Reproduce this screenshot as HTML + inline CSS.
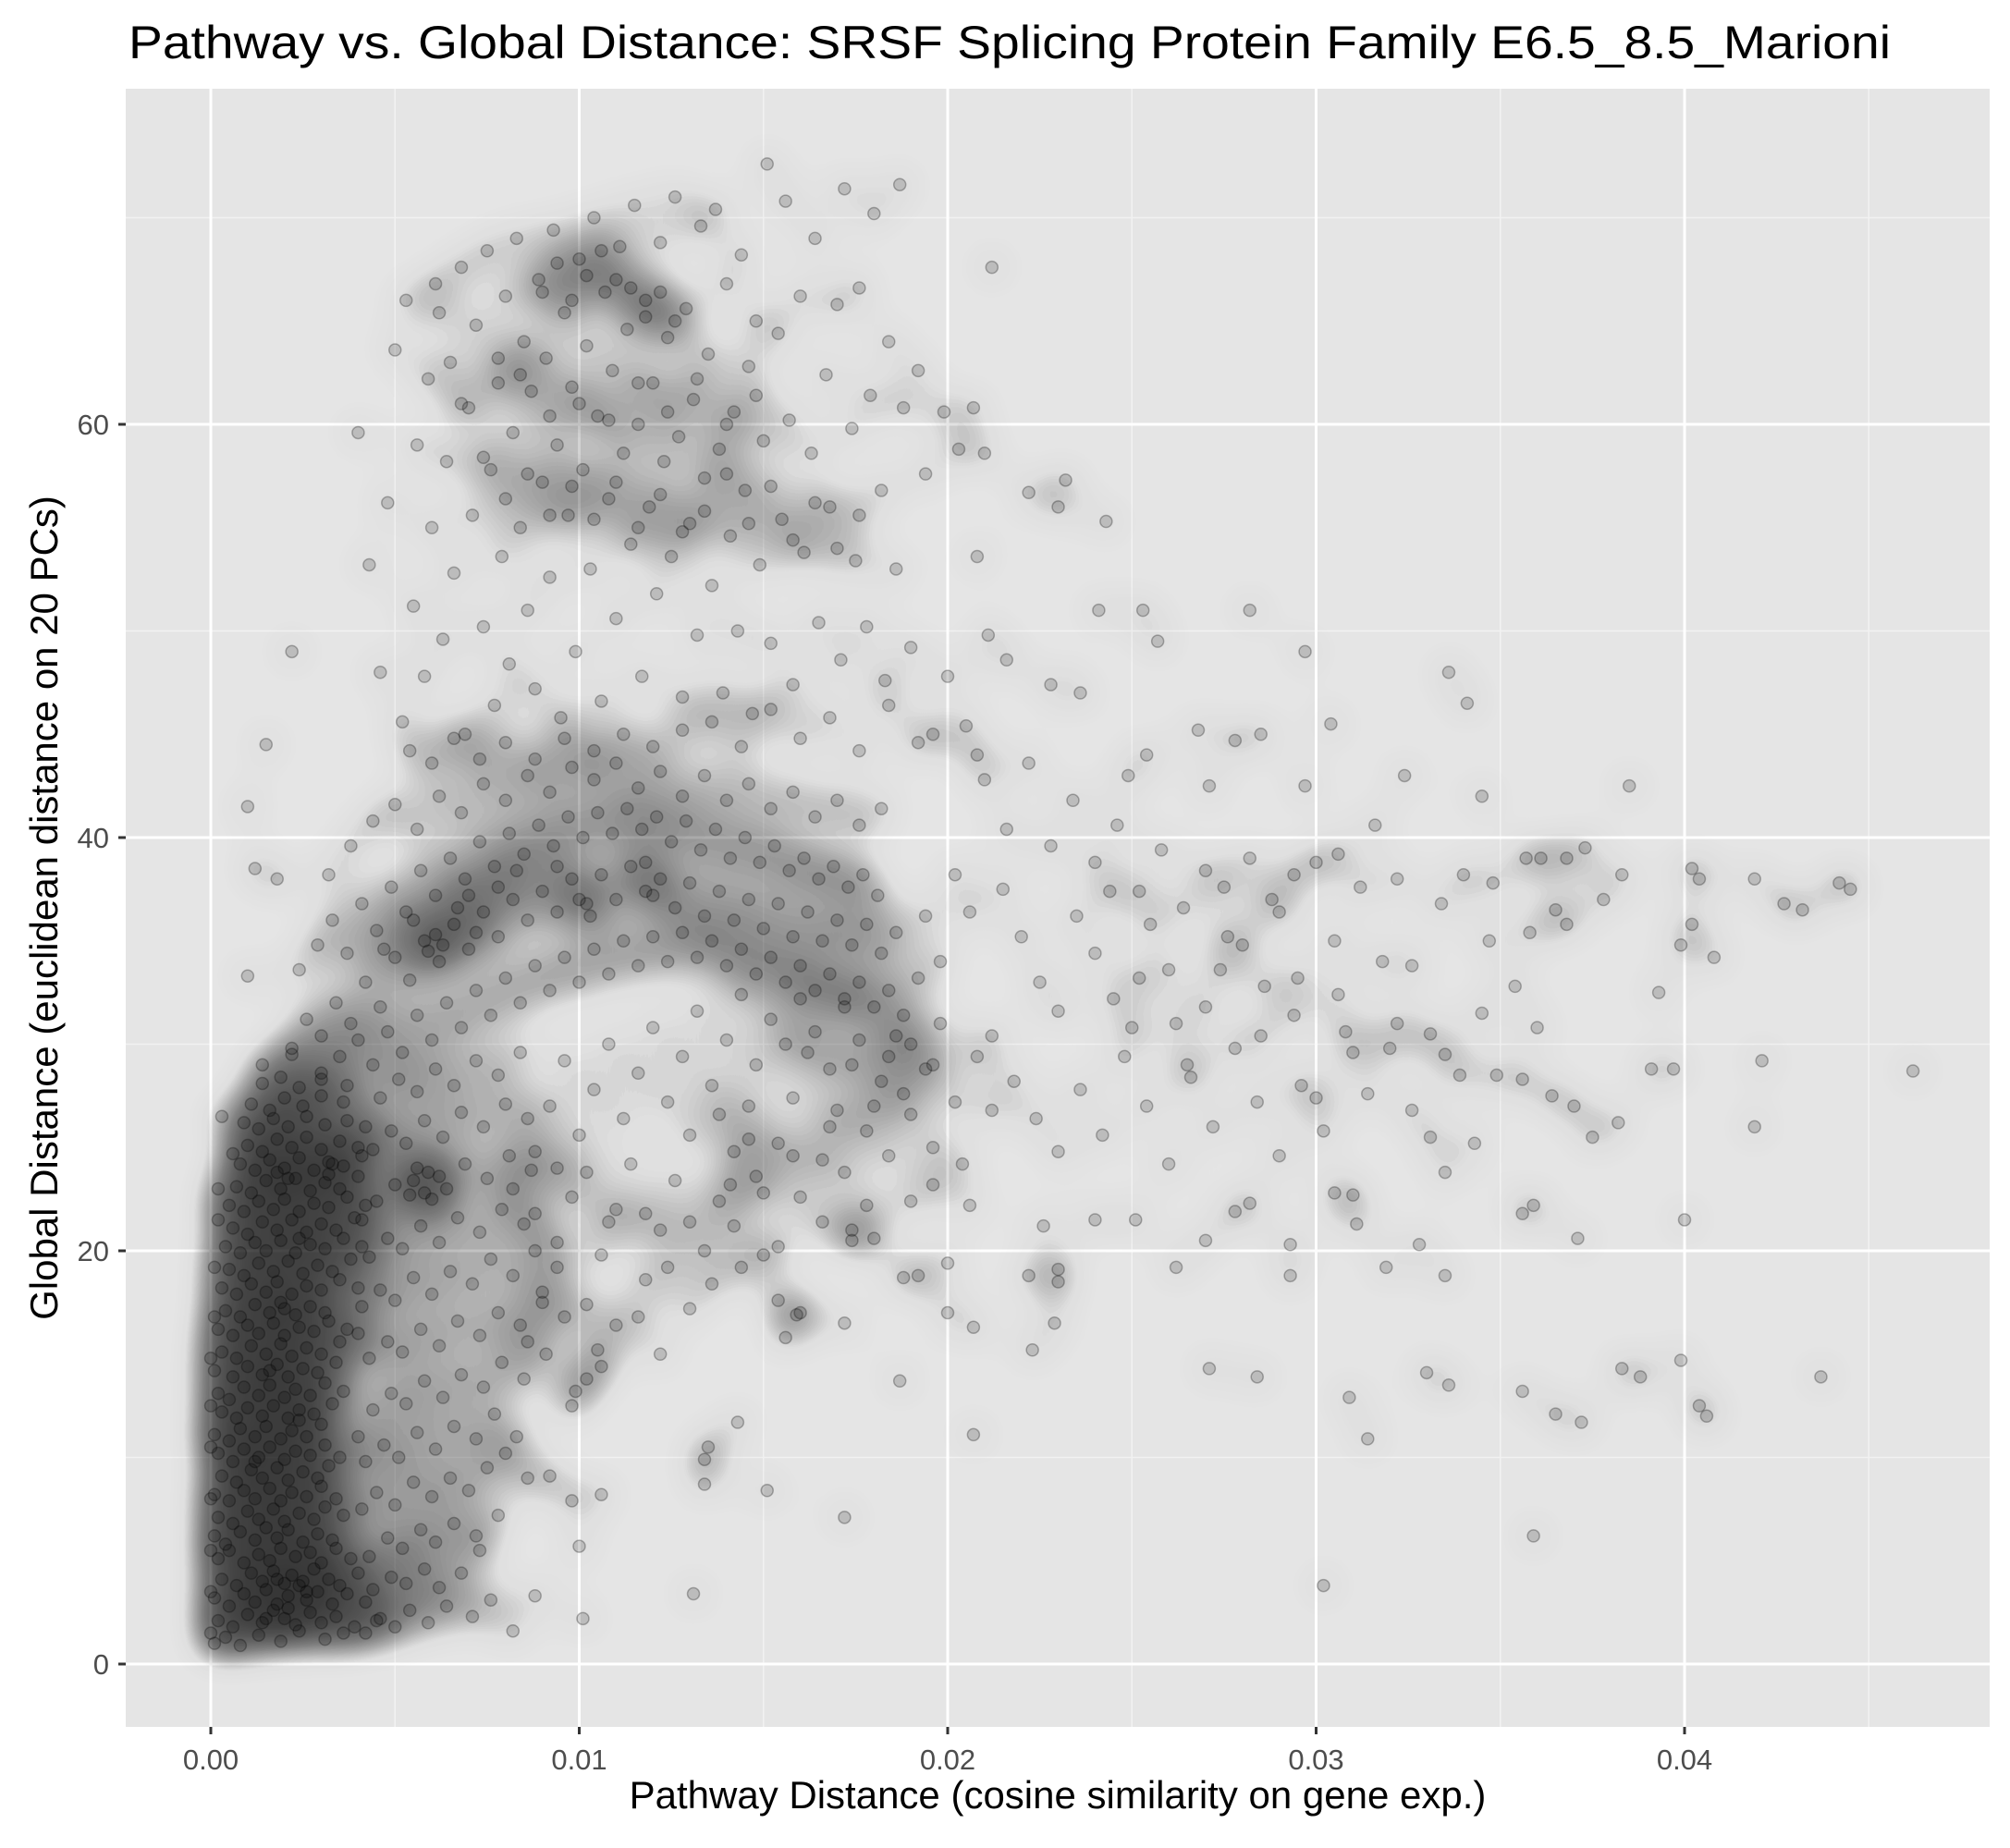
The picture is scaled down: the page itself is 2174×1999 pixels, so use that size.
<!DOCTYPE html>
<html>
<head>
<meta charset="utf-8">
<style>
html,body{margin:0;padding:0;background:#fff;}
svg{display:block;font-family:"Liberation Sans",Arial,sans-serif;}
</style>
</head>
<body>
<svg id="chart" width="2174" height="1999" viewBox="0 0 2174 1999" xmlns="http://www.w3.org/2000/svg">
  <defs>
    <filter id="dens" filterUnits="userSpaceOnUse" x="136" y="96" width="2016" height="1772">
      <feGaussianBlur in="SourceGraphic" stdDeviation="22"/>
      <feComponentTransfer>
        <feFuncA type="table" tableValues="0 0.03 0.3 0.52 0.66 0.76 0.83 0.87 0.89 0.9 0.9 0.9 0.9 0.9 0.9 0.9 0.9 0.9 0.9 0.9 0.9"/>
      </feComponentTransfer>
    </filter>
    <clipPath id="panelClip"><rect x="136" y="96" width="2016" height="1772"/></clipPath>
  </defs>
  <rect x="0" y="0" width="2174" height="1999" fill="#ffffff"/>
  <text x="139" y="63" font-size="50" fill="#000" textLength="1906" lengthAdjust="spacingAndGlyphs">Pathway vs. Global Distance: SRSF Splicing Protein Family E6.5_8.5_Marioni</text>
  <rect x="136" y="96" width="2016" height="1772" fill="#e5e5e5"/>
  <g id="grid"></g>
  <g clip-path="url(#panelClip)">
    <g id="density" filter="url(#dens)" opacity="0.85"></g>
    <g id="points"></g>
  </g>
  <g id="axes"></g>
  <text x="1144" y="1956" font-size="42" text-anchor="middle" fill="#000">Pathway Distance (cosine similarity on gene exp.)</text>
  <text transform="translate(62,982) rotate(-90)" font-size="42" text-anchor="middle" fill="#000">Global Distance (euclidean distance on 20 PCs)</text>
</svg>
<script>
// pathway distance in units of 0.001, global distance
const coreCluster = [
[0.1,1.0],[0.4,1.3],[0.8,0.9],[1.3,1.4],[1.9,1.1],[2.4,1.6],[3.1,1.2],[3.6,1.5],[0.2,2.1],[0.6,1.8],[1.0,2.4],[1.4,2.0],[1.7,2.6],[2.0,2.2],[2.3,1.9],[2.7,2.5],[3.0,2.0],[3.4,2.3],[3.9,1.8],[4.5,2.1],
[0.1,3.2],[0.5,2.8],[0.9,3.4],[1.2,3.0],[1.5,3.6],[1.8,2.9],[2.1,3.3],[2.4,3.8],[2.6,3.1],[2.9,3.5],[3.3,2.9],[3.7,3.4],[4.2,3.0],[0.3,4.1],[0.7,3.8],[1.1,4.4],[1.4,4.0],[1.7,4.5],[2.0,3.9],[2.2,4.3],[2.5,4.0],[2.8,4.6],[3.2,4.1],[3.5,3.8],[4.0,4.4],
[0.2,5.1],[0.5,5.5],[0.9,4.9],[1.3,5.3],[1.6,5.0],[1.9,5.6],[2.3,5.2],[2.7,5.4],[3.0,4.9],[3.4,5.6],[3.8,5.1],[0.1,6.2],[0.4,5.8],[0.8,6.4],[1.2,6.0],[1.5,6.6],[1.8,6.1],[2.1,6.5],[2.5,5.9],[2.9,6.3],[3.3,6.0],
[0.2,7.1],[0.6,6.8],[1.0,7.4],[1.3,7.0],[1.7,7.5],[2.0,6.9],[2.4,7.3],[2.8,7.0],[3.1,7.6],[3.6,7.2],[0.1,8.2],[0.5,7.9],[0.9,8.4],[1.2,8.0],[1.6,8.5],[1.9,7.9],[2.2,8.3],[2.6,8.1],[3.0,8.6],[3.4,8.0],
[0.3,9.1],[0.7,8.8],[1.1,9.4],[1.4,9.0],[1.8,9.5],[2.1,8.9],[2.5,9.3],[2.9,9.0],[3.2,9.6],[0.2,10.2],[0.6,9.8],[0.9,10.4],[1.3,10.0],[1.6,10.5],[2.0,9.9],[2.3,10.3],[2.7,10.1],[3.1,10.6],[3.5,10.0],
[0.1,11.1],[0.5,10.8],[0.8,11.4],[1.2,11.0],[1.5,11.5],[1.9,10.9],[2.2,11.3],[2.6,11.0],[3.0,11.6],[0.3,12.2],[0.7,11.9],[1.0,12.4],[1.4,12.0],[1.7,12.5],[2.1,11.9],[2.4,12.3],[2.8,12.1],[3.3,12.6],
[0.2,13.1],[0.5,12.8],[0.9,13.4],[1.3,13.0],[1.6,13.5],[2.0,12.9],[2.3,13.3],[2.7,13.0],[3.1,13.6],[3.6,13.2],[0.1,14.2],[0.6,13.9],[1.0,14.4],[1.4,14.0],[1.8,14.5],[2.1,13.9],[2.5,14.3],[2.9,14.1],[3.4,14.6],
[0.3,15.1],[0.7,14.8],[1.1,15.4],[1.5,15.0],[1.9,15.5],[2.2,14.9],[2.6,15.3],[3.0,15.0],[3.5,15.6],[0.2,16.2],[0.6,15.9],[1.0,16.4],[1.3,16.0],[1.7,16.5],[2.0,15.9],[2.4,16.3],[2.8,16.1],[3.2,16.6],[3.7,16.2],
[0.4,17.1],[0.8,16.8],[1.2,17.4],[1.6,17.0],[1.9,17.5],[2.3,16.9],[2.7,17.3],[3.1,17.0],[0.3,18.2],[0.7,17.9],[1.1,18.4],[1.5,18.0],[1.8,18.5],[2.2,17.9],[2.6,18.3],[3.0,18.1],[3.5,18.6],[4.0,18.2],
[0.5,19.1],[0.9,18.8],[1.3,19.4],[1.7,19.0],[2.1,19.5],[2.5,18.9],[2.9,19.3],[3.3,19.0],[3.8,19.6],[0.4,20.2],[0.8,19.9],[1.2,20.4],[1.5,20.0],[1.9,20.5],[2.3,19.9],[2.7,20.3],[3.1,20.1],[3.6,20.6],[4.1,20.2],
[0.6,21.1],[1.0,20.8],[1.4,21.4],[1.8,21.0],[2.2,21.5],[2.6,20.9],[3.0,21.3],[3.4,21.0],[3.9,21.6],[0.5,22.2],[0.9,21.9],[1.3,22.4],[1.7,22.0],[2.0,22.5],[2.4,21.9],[2.8,22.3],[3.2,22.1],[3.7,22.6],[4.2,22.2],
[0.7,23.1],[1.1,22.8],[1.5,23.4],[1.9,23.0],[2.3,23.5],[2.7,22.9],[3.1,23.3],[3.5,23.0],[4.0,23.6],[0.8,24.2],[1.2,23.9],[1.6,24.4],[2.0,24.0],[2.4,24.5],[2.8,23.9],[3.2,24.3],[3.6,24.1],[4.1,24.6],
[1.0,25.1],[1.4,24.8],[1.8,25.4],[2.2,25.0],[2.6,25.5],[3.0,24.9],[3.5,25.3],[4.0,25.0],[0.9,26.2],[1.3,25.9],[1.7,26.4],[2.1,26.0],[2.6,26.5],[3.1,26.1],[3.7,26.3],[1.1,27.1],[1.6,26.8],[2.0,27.4],[2.5,27.0],[3.0,27.5],[3.6,27.2],
[1.4,28.1],[1.9,28.4],[2.4,27.9],[3.0,28.3],[3.7,28.0],[0.3,26.5],[0.6,24.7],[0.2,23.0],[1.4,29.0],[2.2,29.5],[1.0,33.3],[1.2,38.5],[1.5,44.5],[2.2,49.0],[1.0,41.5],[1.8,38.0],
[0.0,1.5],[0.0,3.5],[0.0,5.5],[0.0,8.0],[0.0,10.5],[0.0,12.5],[0.0,14.8],[0.1,16.8],[0.1,19.2],[0.2,21.5],[1.5,2.2],[2.1,2.7],[1.8,4.1],[2.6,3.5],[1.2,9.8],[2.4,11.8],[1.6,14.2],[2.0,17.2],[2.4,20.6],[1.8,23.8],[3.2,23.7],[3.3,24.2],[2.1,23.5]
];
const lowMidCluster = [
[4.2,1.5],[4.6,2.2],[5.0,1.8],[5.4,2.6],[5.9,2.0],[6.4,2.8],[7.1,2.3],[7.6,3.1],[8.2,1.6],[8.8,3.3],[4.4,3.6],[4.9,4.2],[5.3,3.9],[5.8,4.6],[6.2,3.7],[6.8,4.4],[7.3,5.5],[4.3,5.2],[4.8,6.1],[5.2,5.6],[5.7,6.5],[6.1,5.9],[6.6,6.8],[7.2,6.2],[7.8,7.2],
[4.1,7.5],[4.5,8.3],[5.0,7.7],[5.5,8.8],[6.0,8.1],[6.5,9.0],[7.0,8.4],[7.5,9.5],[8.0,10.2],[8.6,9.0],[9.2,9.1],[4.2,9.8],[4.7,10.6],[5.1,10.0],[5.6,11.2],[6.1,10.4],[6.6,11.5],[7.2,10.9],[7.7,12.1],[8.3,11.0],
[4.4,12.3],[4.9,13.1],[5.3,12.6],[5.8,13.7],[6.3,12.9],[6.8,14.0],[7.4,13.4],[7.9,14.6],[8.5,13.8],[9.1,15.0],[4.3,14.8],[4.8,15.6],[5.2,15.1],[5.7,16.2],[6.2,15.4],[6.7,16.6],[7.3,15.9],[7.8,17.0],[8.4,16.4],[9.0,17.5],[9.6,16.8],
[4.1,17.3],[4.6,18.1],[5.0,17.6],[5.5,18.7],[6.0,17.9],[6.5,19.0],[7.1,18.4],[7.6,19.6],[8.2,18.8],[8.8,20.0],[9.4,19.2],[4.3,19.7],[4.8,20.6],[5.2,20.1],[5.7,21.2],[6.2,20.4],[6.7,21.6],[7.3,20.9],[7.9,22.0],[8.5,21.3],
[4.5,22.4],[5.0,23.2],[5.4,22.7],[5.9,23.8],[6.4,23.0],[6.9,24.2],[7.5,23.5],[8.1,24.6],[8.7,23.9],[4.4,24.9],[4.9,25.8],[5.3,25.2],[5.8,26.3],[6.3,25.5],[6.8,26.7],[7.4,26.0],[8.0,27.1],[8.6,26.4],
[4.6,27.4],[5.1,28.3],[5.6,27.7],[6.1,28.8],[6.6,28.0],[7.2,29.2],[7.8,28.5],[8.4,29.6],[4.0,11.0],[4.0,16.0],[4.1,21.5],[4.2,26.0],[9.8,12.5],[10.2,13.8],[10.5,15.2],[6.0,22.5],[6.2,23.6],[5.6,24.0],[5.8,22.8],[5.5,23.4]
];
const bandCluster = [
[2.2,29.8],[2.6,31.2],[3.0,30.4],[3.4,32.0],[3.8,31.0],[4.2,33.0],[4.6,31.8],[5.0,34.2],[5.4,33.1],[5.8,35.0],[6.2,34.0],[6.6,35.8],[7.0,34.6],[7.4,36.4],[7.8,35.2],[8.2,37.0],[8.6,36.0],[9.0,37.4],[9.4,36.4],[9.8,38.0],
[10.2,36.8],[10.6,38.2],[11.0,37.0],[11.4,38.6],[11.8,37.4],[12.2,38.0],[12.6,36.6],[13.0,37.8],[13.4,36.2],[13.8,37.4],[14.2,36.0],[14.6,37.0],[15.0,35.6],[15.4,36.8],[15.8,35.2],[16.2,36.4],[16.6,35.0],[17.0,36.0],[17.4,34.8],[17.8,35.8],[18.2,34.4],[18.6,35.4],
[2.4,33.6],[2.9,34.8],[3.3,36.0],[3.7,34.4],[4.1,36.8],[4.5,35.5],[4.9,37.6],[5.3,36.4],[5.7,38.4],[6.1,37.2],[6.5,39.0],[6.9,38.0],[7.3,39.8],[7.7,38.6],[8.1,40.2],[8.5,39.2],[8.9,40.6],[9.3,39.6],[9.7,41.0],[10.1,40.0],
[10.5,41.2],[10.9,40.2],[11.3,41.4],[11.7,40.4],[12.1,41.0],[12.5,39.8],[12.9,40.8],[13.3,39.4],[13.7,40.4],[14.1,39.0],[14.5,40.0],[14.9,38.8],[15.3,39.6],[15.7,38.4],[16.1,39.0],[16.5,38.0],[16.9,38.6],[17.3,37.6],[17.7,38.2],[18.1,37.2],
[3.0,28.6],[3.5,29.4],[4.0,30.2],[4.4,29.0],[4.8,30.6],[5.2,29.6],[5.6,31.4],[6.0,30.2],[6.4,32.0],[6.8,30.8],[7.2,32.6],[7.6,31.4],[8.0,33.2],[8.4,32.0],[8.8,33.8],[9.2,32.6],[9.6,34.2],[10.0,33.0],[10.4,34.6],[10.8,33.4],
[11.2,35.0],[11.6,33.8],[12.0,35.2],[12.4,34.0],[12.8,35.4],[13.2,34.2],[13.6,35.0],[14.0,33.8],[14.4,34.6],[14.8,33.4],[15.2,34.2],[15.6,33.0],[16.0,33.8],[16.4,32.6],[16.8,33.4],[17.2,32.2],[17.6,33.0],[18.0,31.8],[18.4,32.6],[18.8,31.4],[19.2,33.2],
[3.2,38.2],[3.8,39.6],[4.4,40.8],[5.0,41.6],[5.6,40.4],[6.2,42.0],[6.8,41.2],[7.4,42.6],[8.0,41.8],[8.6,43.0],[9.2,42.2],[9.8,43.4],[10.4,42.8],[11.0,43.6],[11.6,42.4],[12.2,43.2],[12.8,42.0],[13.4,43.0],[14.0,41.8],[14.6,42.6],[15.2,41.4],[15.8,42.2],[16.4,41.0],[17.0,41.8],[17.6,40.6],[18.2,41.4],
[5.9,34.5],[6.3,34.8],[6.1,35.3],[7.0,37.2],[7.2,35.4],[10.0,37.0],[10.3,36.2],[11.8,38.8],[12.0,37.2],[9.4,38.6],[8.3,38.4],[7.8,37.6],[6.7,36.6],[5.5,36.0],[4.7,34.6],[19.0,30.0],[19.6,29.0],[19.4,36.2],[19.8,34.0],[20.2,38.2],[20.6,36.4]
];
const midCluster = [
[8.6,15.6],[9.0,18.0],[9.4,20.4],[9.8,22.6],[10.2,17.4],[10.6,19.8],[11.0,22.0],[11.4,24.2],[11.8,18.6],[12.2,21.0],[12.6,23.4],[13.0,25.6],[13.4,20.0],[13.8,22.4],[14.2,24.8],[14.6,27.0],[15.0,22.8],[15.4,25.2],[15.8,27.4],[16.2,29.6],
[16.6,24.4],[17.0,26.8],[17.4,29.0],[17.8,25.8],[18.2,28.2],[18.6,30.4],[19.0,26.6],[19.4,28.8],[19.8,31.0],[20.2,27.2],[8.8,24.8],[9.2,27.0],[9.6,29.2],[10.0,25.6],[10.4,27.8],[10.8,30.0],[11.2,26.4],[11.6,28.6],[12.0,30.8],[12.4,27.2],
[12.8,29.4],[13.2,31.6],[13.6,28.0],[14.0,30.2],[14.4,32.4],[14.8,29.0],[15.2,31.2],[15.6,30.0],[16.0,32.2],[16.4,30.6],[16.8,28.8],[17.2,31.8],[17.6,30.2],[18.0,27.0],[18.4,29.4],[11.0,16.4],[11.6,16.8],[12.2,15.0],[10.6,14.4],[9.9,13.2],
[13.0,17.2],[13.6,18.4],[14.2,21.2],[14.8,23.6],[15.4,20.2],[16.0,22.6],[16.6,21.4],[17.2,23.8],[17.8,22.2],[18.4,24.6],[19.0,22.4],[19.6,25.0],[20.4,24.2],[20.8,29.4],[21.2,26.8],[20.0,19.4],[19.2,18.8],[18.0,20.6],[17.4,21.0],[16.0,17.0],
[15.0,19.8],[14.4,19.2],[13.0,21.4],[12.4,19.2],[11.8,21.8],[10.8,21.4],[10.2,23.8],[9.4,24.0],[8.8,21.8],[8.2,23.0],[14.1,23.2],[14.6,25.4],[13.8,26.6],[15.8,24.6],[16.8,26.0],[18.8,27.6],[19.6,23.2],[20.6,22.2],[20.0,17.0],[15.4,17.6]
];
const upperCluster = [
[4.0,59.6],[4.3,53.2],[4.6,48.0],[4.8,56.2],[5.0,63.6],[5.2,45.6],[5.3,66.0],[5.5,51.2],[5.6,59.0],[5.8,47.8],[5.9,62.2],[6.0,55.0],[6.1,66.8],[6.3,49.6],[6.4,58.2],[6.5,63.0],[6.6,52.8],[6.8,67.6],[6.9,45.0],[7.0,60.8],
[7.1,55.6],[7.2,64.8],[7.4,50.2],[7.5,68.4],[7.6,57.8],[7.7,46.4],[7.8,62.0],[7.9,53.6],[8.0,66.2],[8.1,48.4],[8.2,59.6],[8.3,69.0],[8.4,55.0],[8.5,64.0],[8.6,51.0],[8.7,61.6],[8.8,47.2],[8.9,67.0],[9.0,57.2],[9.1,63.2],
[9.2,52.6],[9.3,69.4],[9.4,59.0],[9.5,45.8],[9.6,65.4],[9.7,55.6],[9.8,61.8],[9.9,49.0],[10.0,68.0],[10.1,57.8],[10.2,63.8],[10.3,53.0],[10.4,70.0],[10.5,60.4],[10.6,46.6],[10.7,66.4],[10.8,56.4],[10.9,62.6],[11.0,50.6],[11.1,68.6],
[11.2,58.6],[11.3,64.6],[11.4,54.2],[11.5,70.6],[11.6,60.0],[11.7,47.8],[11.8,66.0],[11.9,56.0],[12.0,62.0],[12.1,51.8],[12.2,68.8],[12.3,58.2],[12.4,64.2],[12.5,53.6],[12.6,71.0],[12.7,59.4],[12.8,45.2],[12.9,65.6],[13.0,55.2],[13.1,61.2],
[13.2,49.8],[13.3,69.6],[13.4,57.4],[13.5,63.4],[13.6,52.2],[13.7,70.4],[13.8,58.8],[13.9,47.0],[14.0,66.8],[14.1,54.6],[14.2,60.6],[14.3,50.0],[14.4,68.2],[14.5,56.8],[14.6,62.8],[14.7,46.0],[14.8,65.0],[14.9,53.2],[15.0,59.2],[15.1,72.6],
[15.2,49.4],[15.4,64.4],[15.5,55.4],[15.6,70.8],[15.7,60.2],[15.8,47.4],[16.0,66.2],[16.1,53.8],[16.3,58.6],[16.4,69.0],[16.5,50.4],[16.7,62.4],[16.8,56.0],[17.0,65.8],[17.1,48.6],[17.2,71.4],[17.4,59.8],[17.5,53.4],[17.6,66.6],[17.8,50.2],
[17.9,61.4],[18.0,70.2],[18.2,56.8],[18.3,47.6],[18.4,64.0],[18.6,53.0],[18.7,71.6],[18.8,60.8],[19.0,49.2],[19.2,62.6],[19.4,57.6],[19.6,45.0],[19.9,60.6],[20.3,58.8],[20.7,60.8],[21.0,58.6],[20.8,53.6],[21.2,67.6],[21.1,49.8],[20.5,45.4],
[5.4,44.2],[6.0,43.6],[6.6,44.8],[7.3,43.8],[8.0,44.6],[8.8,43.8],[9.6,44.8],[10.4,44.2],[11.2,45.0],[12.0,44.4],[12.8,46.8],[13.6,45.6],[14.4,44.4],[15.2,46.2],[16.0,44.8],[16.8,45.8],[17.6,44.2],[18.4,46.4],[19.2,44.6],[20.0,47.8],
[6.2,65.4],[6.8,61.0],[7.4,58.4],[8.0,56.4],[8.6,57.6],[9.2,55.6],[9.8,57.0],[10.4,55.4],[11.0,57.2],[11.6,55.0],[12.2,56.6],[12.8,54.8],[13.4,55.8],[14.0,57.6],[14.6,55.2],[15.2,57.0],[15.8,54.4],[16.4,56.2],[17.0,54.0],[17.6,55.6],
[9.0,66.4],[9.4,67.8],[9.8,66.0],[10.2,67.2],[10.6,68.4],[11.0,67.0],[11.4,66.6],[11.8,65.2],[12.2,66.4],[12.6,65.0],[7.8,63.2],[8.4,62.4],[9.2,60.4],[10.0,61.0],[10.8,60.2],[11.6,62.0],[12.4,60.6],[13.2,62.2],[14.0,60.0],[14.8,61.4]
];
const sparseTail = [
[22.2,56.7],[23.0,56.0],[23.2,57.3],[24.3,55.3],[24.1,51.0],[25.3,51.0],[28.2,51.0],[29.7,49.0],[25.7,49.5],[24.9,43.0],[25.4,44.0],[26.8,45.2],[27.8,44.7],[28.5,45.0],[30.4,45.5],[32.4,43.0],[29.7,42.5],[27.1,42.5],[33.6,48.0],[34.1,46.5],
[34.5,42.0],[38.5,42.5],[37.3,39.5],[35.7,39.0],[36.1,39.0],[36.8,39.0],[40.2,38.5],[40.4,38.0],[41.9,38.0],[44.5,37.5],[44.2,37.8],[43.2,36.5],[42.7,36.8],[40.8,34.2],[40.2,35.8],[39.9,34.8],[37.8,37.0],[38.3,38.2],[36.5,36.5],[34.7,35.0],
[35.4,32.8],[34.5,31.5],[33.1,30.5],[33.5,29.5],[33.9,28.5],[34.9,28.5],[35.6,28.3],[36.4,27.5],[37.0,27.0],[38.2,26.2],[39.1,28.8],[39.7,28.8],[39.3,32.5],[42.1,29.2],[46.2,28.7],[41.9,26.0],[37.5,25.5],[34.3,25.2],[33.1,25.5],[33.5,23.8],
[35.6,21.8],[35.9,22.2],[37.1,20.6],[40.0,21.5],[33.5,18.8],[32.8,20.3],[31.9,19.2],[30.5,22.8],[31.0,22.7],[31.1,21.3],[29.3,20.3],[29.3,18.8],[28.2,22.3],[27.8,21.9],[27.0,20.5],[26.2,19.2],[25.1,21.5],[24.0,21.5],[22.6,21.2],[23.0,19.1],
[22.2,18.8],[23.0,18.5],[22.9,16.5],[22.3,15.2],[20.7,16.3],[20.7,11.1],[27.1,14.3],[28.4,13.9],[30.9,12.9],[31.4,10.9],[33.0,14.1],[33.6,13.5],[35.6,13.2],[36.5,12.1],[37.2,11.7],[38.3,14.3],[38.8,13.9],[39.9,14.7],[40.4,12.5],[40.6,12.0],
[43.7,13.9],[35.9,6.2],[30.2,3.8],[17.2,7.1],[15.1,8.4],[13.1,3.4],[9.8,7.9],[10.0,5.7],[10.1,2.2],[10.6,8.2],[14.3,11.7],[13.5,10.5],[13.4,9.9],[13.4,8.7],[18.7,13.7],[15.9,16.9],[15.6,15.8],[17.2,16.5],[17.4,20.5],[18.8,18.7],
[21.5,37.5],[22.0,35.2],[22.5,33.0],[23.0,31.6],[23.5,36.2],[24.0,34.4],[24.5,32.2],[25.0,30.8],[25.5,35.8],[26.0,33.6],[26.5,29.0],[27.0,31.8],[27.5,37.6],[28.0,34.8],[28.5,30.4],[29.0,36.4],[29.5,33.2],[30.0,27.4],[30.5,35.0],[31.0,29.6],
[21.2,30.4],[21.8,28.2],[22.4,26.4],[23.0,24.8],[23.6,27.8],[24.2,25.6],[24.8,29.4],[25.4,27.0],[26.0,24.2],[26.6,28.4],[27.2,26.0],[27.8,29.8],[28.4,27.2],[29.0,24.6],[29.6,28.0],[30.2,25.8],[30.8,30.6],[31.4,27.6],[32.0,29.8],[32.6,26.8],
[21.0,42.8],[21.6,40.4],[22.2,43.6],[22.8,39.6],[23.4,41.8],[24.0,38.8],[24.6,40.6],[25.2,37.4],[25.8,39.4],[26.4,36.6],[27.0,38.4],[27.6,35.2],[28.2,39.0],[28.8,37.0],[29.4,38.2],[30.0,38.8],[30.6,39.2],[31.2,37.6],[31.8,34.0],[32.2,38.0],
[22.8,47.4],[23.6,47.0],[21.6,48.6],[20.8,44.0],[31.6,40.6],[32.6,33.8],[33.4,36.8],[34.0,38.2],[34.8,37.8],[35.8,35.4],[36.8,35.8],[36.0,30.8],[32.2,31.0],[30.6,32.4],[29.4,31.4],[28.6,32.8],[27.4,33.6],[26.2,31.0],[25.2,33.2],[24.4,37.4]
];
const xTickValues = [0, 10, 20, 30, 40];
const xTickLabels = ["0.00", "0.01", "0.02", "0.03", "0.04"];
const xMinorValues = [5, 15, 25, 35, 45];
const yTickValues = [0, 20, 40, 60];
const yTickLabels = ["0", "20", "40", "60"];
const yMinorValues = [10, 30, 50, 70];

const NS = "http://www.w3.org/2000/svg";
const panel = {left:136, top:96, right:2152, bottom:1868};
function xScale(v){ return 228 + v * 39.85; }
function yScale(v){ return 1800 - v * 22.35; }

const grid = document.getElementById('grid');
const axes = document.getElementById('axes');
function mk(tag, attrs, parent){
  const e = document.createElementNS(NS, tag);
  for (const k in attrs) e.setAttribute(k, attrs[k]);
  parent.appendChild(e);
  return e;
}
xMinorValues.forEach(v=>{
  const l = mk('line',{x1:xScale(v),x2:xScale(v),y1:panel.top,y2:panel.bottom,stroke:'#f2f2f2','stroke-width':1.5},grid);
  
  
});
yMinorValues.forEach(v=>{
  const l = mk('line',{x1:panel.left,x2:panel.right,y1:yScale(v),y2:yScale(v),stroke:'#f2f2f2','stroke-width':1.5},grid);
  
  
});
xTickValues.forEach((v,i)=>{
  const l = mk('line',{x1:xScale(v),x2:xScale(v),y1:panel.top,y2:panel.bottom,stroke:'#ffffff','stroke-width':3},grid);
  
  
  const t = mk('line',{x1:xScale(v),x2:xScale(v),y1:panel.bottom,y2:panel.bottom+8,stroke:'#333333','stroke-width':3},axes);
  
  
  const tx = mk('text',{x:xScale(v),y:1914,'font-size':31,'text-anchor':'middle',fill:'#4d4d4d'},axes);
  tx.textContent = xTickLabels[i];
  
  
});
yTickValues.forEach((v,i)=>{
  const l = mk('line',{x1:panel.left,x2:panel.right,y1:yScale(v),y2:yScale(v),stroke:'#ffffff','stroke-width':3},grid);
  
  
  const t = mk('line',{x1:panel.left-8,x2:panel.left,y1:yScale(v),y2:yScale(v),stroke:'#333333','stroke-width':3},axes);
  
  
  const tx = mk('text',{x:118,y:yScale(v)+11,'font-size':31,'text-anchor':'end',fill:'#4d4d4d'},axes);
  tx.textContent = yTickLabels[i];
  
  
});

const dens = document.getElementById('density');
const pts = document.getElementById('points');
const groups = [coreCluster, lowMidCluster, bandCluster, midCluster, upperCluster, sparseTail];
groups.forEach(arr=>{
  arr.forEach(p=>{
    const d = mk('circle',{cx:xScale(p[0]),cy:yScale(p[1]),r:16,fill:'rgba(0,0,0,0.15)'},dens);
    
    
    const c = mk('circle',{cx:xScale(p[0]),cy:yScale(p[1]),r:6.5,fill:'rgba(0,0,0,0.16)',stroke:'rgba(0,0,0,0.28)','stroke-width':1.5},pts);
    
    
  });
});
</script>
</body>
</html>
